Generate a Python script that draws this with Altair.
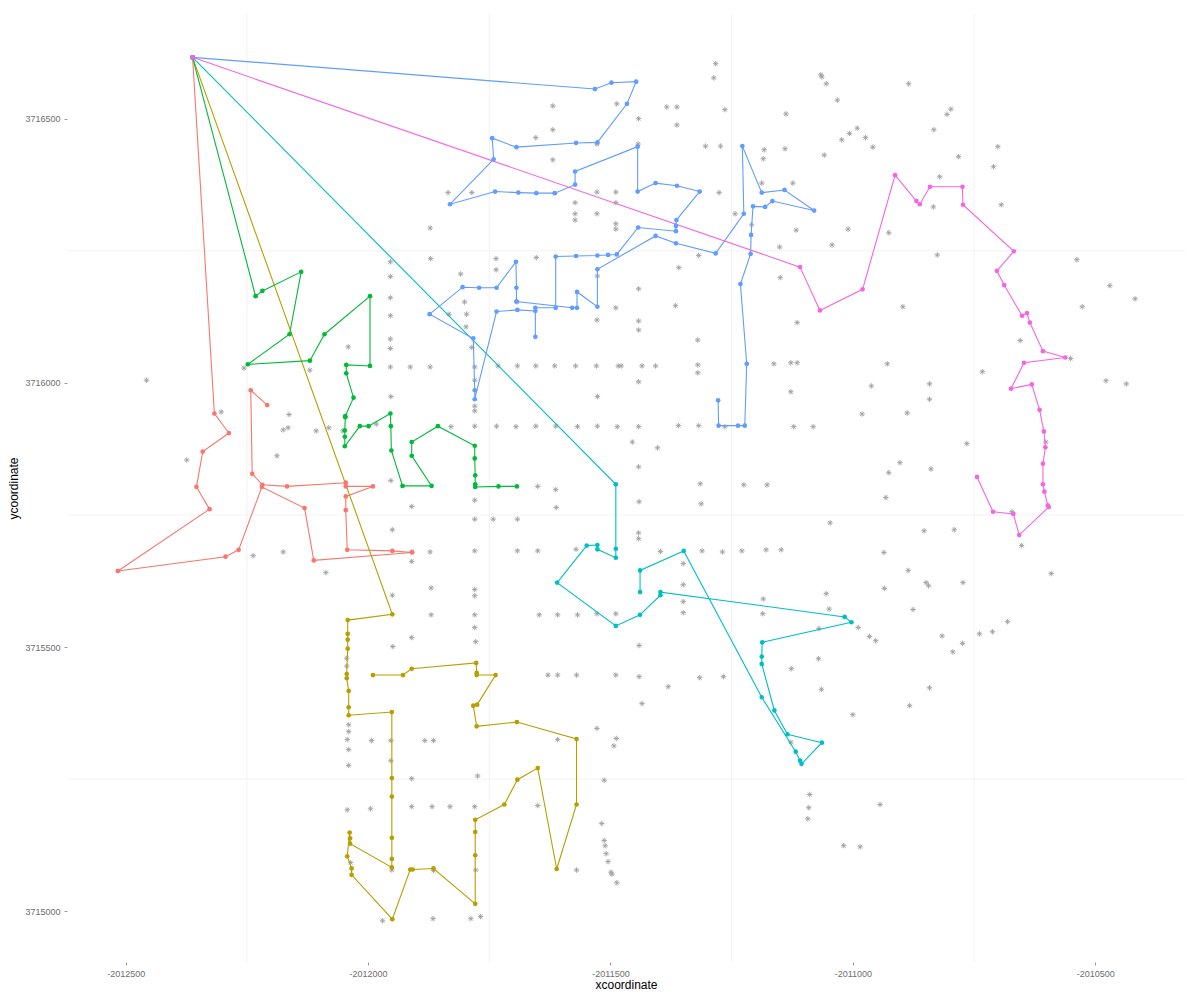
import altair as alt
import pandas as pd

depot_x = -2012362
depot_y = 3716616

red_x = [-2012317, -2012287, -2012341, -2012354, -2012327, -2012516, -2012294, -2012267, -2012219, -2012131,
         -2012112, -2011909, -2011950, -2012043, -2012046, -2012046, -2011990, -2012046, -2012046, -2012167,
         -2012218, -2012239, -2012242, -2012208]
red_y = [3715942, 3715905, 3715870, 3715803, 3715761, 3715644, 3715671, 3715684, 3715803, 3715763,
         3715664, 3715679, 3715682, 3715684, 3715759, 3715785, 3715804, 3715804, 3715811, 3715804,
         3715807, 3715828, 3715986, 3715958]

olive_x = [-2011950, -2012042, -2012042, -2012042, -2012042, -2012044, -2012044, -2012040, -2012040, -2012040,
           -2011951, -2011951, -2011951, -2011951, -2011951, -2011951, -2012037, -2012037, -2012038, -2012043,
           -2012034, -2012034, -2011950, -2011913, -2011908, -2011865, -2011779, -2011779, -2011779, -2011779,
           -2011719, -2011692, -2011650, -2011611, -2011570, -2011570, -2011693, -2011776, -2011783, -2011775,
           -2011737, -2011776, -2011776, -2011777, -2011910, -2011928, -2011990]
olive_y = [3715562, 3715551, 3715525, 3715514, 3715497, 3715449, 3715441, 3715417, 3715386, 3715371,
           3715377, 3715252, 3715217, 3715139, 3715099, 3715083, 3715128, 3715138, 3715149, 3715104,
           3715081, 3715069, 3714985, 3715079, 3715079, 3715081, 3715014, 3715106, 3715150, 3715173,
           3715202, 3715249, 3715271, 3715080, 3715202, 3715326, 3715358, 3715350, 3715389, 3715391,
           3715447, 3715447, 3715451, 3715470, 3715459, 3715447, 3715447]

green_x = [-2012232, -2012218, -2012138, -2012162, -2012248, -2012120, -2012090, -2011996, -2011996, -2012045,
           -2012045, -2012030, -2012047, -2012047, -2012048, -2012048, -2012048, -2012017, -2011999, -2011954,
           -2011953, -2011952, -2011929, -2011869, -2011910, -2011910, -2011856, -2011780, -2011780, -2011779,
           -2011779, -2011779, -2011731, -2011693]
green_y = [3716164, 3716174, 3716210, 3716092, 3716035, 3716042, 3716092, 3716164, 3716032, 3716034,
           3716018, 3715972, 3715937, 3715935, 3715910, 3715898, 3715880, 3715918, 3715918, 3715942,
           3715918, 3715872, 3715805, 3715805, 3715862, 3715888, 3715918, 3715881, 3715857, 3715825,
           3715808, 3715803, 3715804, 3715804]

cyan_x = [-2011489, -2011489, -2011489, -2011527, -2011527, -2011549, -2011610, -2011489, -2011439, -2011397,
          -2011397, -2011017, -2011003, -2011187, -2011188, -2011188, -2011162, -2011135, -2011064, -2011106,
          -2011109, -2011118, -2011188, -2011349, -2011439, -2011439]
cyan_y = [3715808, 3715686, 3715669, 3715685, 3715693, 3715692, 3715622, 3715540, 3715561, 3715598,
          3715604, 3715557, 3715547, 3715509, 3715482, 3715468, 3715380, 3715335, 3715319, 3715279,
          3715285, 3715302, 3715405, 3715682, 3715645, 3715604]

blue_x = [-2011532, -2011498, -2011447, -2011466, -2011527, -2011571, -2011694, -2011744, -2011741, -2011831,
          -2011738, -2011690, -2011653, -2011615, -2011573, -2011573, -2011444, -2011444, -2011407, -2011363,
          -2011316, -2011364, -2011365, -2011365, -2011443, -2011487, -2011505, -2011527, -2011571, -2011613,
          -2011613, -2011655, -2011655, -2011655, -2011692, -2011735, -2011780, -2011780, -2011783, -2011873,
          -2011805, -2011771, -2011735, -2011695, -2011694, -2011694, -2011579, -2011569, -2011569, -2011527,
          -2011527, -2011407, -2011365, -2011283, -2011225, -2011228, -2011188, -2011141, -2011080, -2011166,
          -2011181, -2011206, -2011210, -2011211, -2011232, -2011219, -2011223, -2011237, -2011277, -2011278]
blue_y = [3716556, 3716568, 3716570, 3716528, 3716455, 3716454, 3716446, 3716463, 3716423, 3716338,
          3716362, 3716360, 3716359, 3716359, 3716375, 3716400, 3716447, 3716362, 3716378, 3716373,
          3716362, 3716308, 3716297, 3716287, 3716294, 3716243, 3716242, 3716241, 3716240, 3716239,
          3716142, 3716142, 3716087, 3716136, 3716138, 3716135, 3715969, 3715986, 3716084, 3716130,
          3716181, 3716180, 3716180, 3716229, 3716180, 3716154, 3716142, 3716142, 3716172, 3716144,
          3716215, 3716278, 3716264, 3716245, 3716320, 3716448, 3716360, 3716365, 3716326, 3716344,
          3716333, 3716334, 3716280, 3716244, 3716187, 3716036, 3715919, 3715919, 3715919, 3715967]

magenta_x = [-2011109, -2011068, -2010980, -2010913, -2010869, -2010862, -2010841, -2010774, -2010773, -2010668,
             -2010703, -2010688, -2010651, -2010641, -2010635, -2010608, -2010562, -2010647, -2010674, -2010631,
             -2010615, -2010606, -2010603, -2010608, -2010608, -2010605, -2010598, -2010596, -2010657, -2010669,
             -2010711, -2010744]
magenta_y = [3716219, 3716137, 3716177, 3716393, 3716344, 3716338, 3716371, 3716371, 3716337, 3716249,
             3716212, 3716185, 3716127, 3716132, 3716114, 3716060, 3716048, 3716038, 3715989, 3715997,
             3715949, 3715908, 3715878, 3715847, 3715808, 3715794, 3715768, 3715765, 3715712, 3715752,
             3715756, 3715822]

star_x = [-2012041, -2011619, -2011487, -2011442, -2011619, -2011654, -2011528, -2011443, -2011619, -2011835,
          -2011786, -2011528, -2011489, -2011573, -2011489, -2011573, -2011528, -2011573, -2011489, -2011489,
          -2011872, -2011954, -2011871, -2011736, -2011736, -2011653, -2011954, -2011809, -2011527, -2011442,
          -2011954, -2011801, -2011693, -2011489, -2011954, -2011833, -2011797, -2011798, -2011528, -2011442,
          -2011442, -2011954, -2011954, -2011786, -2011283, -2011287, -2011066, -2011064, -2011055, -2010885,
          -2011384, -2011363, -2011264, -2011032, -2011138, -2011363, -2011007, -2010991, -2011023, -2010974,
          -2010959, -2011304, -2011273, -2011183, -2011140, -2011185, -2011059, -2011188, -2011124, -2011276,
          -2011243, -2011209, -2011117, -2011010, -2010926, -2011043, -2011151, -2011318, -2011359, -2011150,
          -2011366, -2010897, -2011115, -2011320, -2010798, -2010806, -2010833, -2010701, -2010782, -2010710,
          -2010821, -2010834, -2010694, -2010826, -2010538, -2010470, -2010418, -2010527, -2010655, -2010551,
          -2012457, -2012303, -2012374, -2012256, -2012120, -2012163, -2012175, -2012165, -2012107, -2012081,
          -2012052, -2012188, -2012237, -2012175, -2012087, -2011954, -2011913, -2011872, -2011780, -2011732,
          -2011692, -2011654, -2011615, -2011572, -2011529, -2011484, -2011478, -2011780, -2011442, -2011953,
          -2011527, -2011780, -2011780, -2011983, -2011829, -2011780, -2011735, -2011695, -2011654, -2011613,
          -2011568, -2011527, -2011486, -2011442, -2011455, -2011442, -2011953, -2011780, -2011650, -2011613,
          -2011441, -2011910, -2011612, -2011780, -2011742, -2011692, -2011950, -2011442, -2011442, -2011780,
          -2011692, -2011650, -2011571, -2011910, -2011872, -2011910, -2011870, -2011780, -2011780, -2011950,
          -2011870, -2011780, -2011647, -2011609, -2011568, -2011528, -2011489, -2011441, -2011780, -2011910,
          -2011778, -2011949, -2012044, -2011435, -2011407, -2011320, -2011320, -2011163, -2011128, -2011115,
          -2010929, -2011128, -2010962, -2010981, -2010888, -2011360, -2011318, -2011264, -2011122, -2011082,
          -2011403, -2011315, -2011225, -2011177, -2010903, -2010926, -2010932, -2011313, -2011047, -2011397,
          -2011311, -2011269, -2011229, -2011179, -2011148, -2010936, -2010886, -2011350, -2011350, -2010935,
          -2011350, -2011185, -2011055, -2011350, -2011049, -2011186, -2010876, -2010989, -2011070, -2010966,
          -2010953, -2011071, -2010733, -2010478, -2010436, -2010842, -2010842, -2010765, -2010839, -2010602,
          -2010672, -2010853, -2010791, -2010652, -2010591, -2010849, -2010844, -2010773, -2010681, -2010712,
          -2010739, -2010816, -2010774, -2010794, -2012044, -2012040, -2012040, -2012043, -2012040, -2012040,
          -2012043, -2012036, -2011629, -2011609, -2011570, -2011489, -2011441, -2011993, -2011953, -2011883,
          -2011865, -2011609, -2011528, -2011488, -2011493, -2011953, -2011910, -2011774, -2011513, -2011995,
          -2011910, -2011868, -2011831, -2011780, -2011650, -2011518, -2011513, -2011511, -2011509, -2011505,
          -2011499, -2011497, -2011487, -2011951, -2011865, -2011778, -2011570, -2011970, -2011866, -2011788,
          -2011768, -2011381, -2011316, -2011267, -2011127, -2011065, -2011435, -2010883, -2011000, -2011128,
          -2011089, -2011091, -2011093, -2010944, -2011019, -2010985, -2010842]
star_y = [3716068, 3716524, 3716528, 3716500, 3716479, 3716464, 3716452, 3716452, 3716422, 3716360,
          3716360, 3716361, 3716361, 3716341, 3716341, 3716320, 3716320, 3716308, 3716301, 3716291,
          3716293, 3716229, 3716235, 3716235, 3716214, 3716237, 3716201, 3716206, 3716202, 3716178,
          3716161, 3716153, 3716153, 3716142, 3716127, 3716130, 3716130, 3716106, 3716119, 3716117,
          3716100, 3716083, 3716065, 3716067, 3716604, 3716577, 3716583, 3716579, 3716566, 3716566,
          3716522, 3716522, 3716517, 3716535, 3716509, 3716488, 3716472, 3716482, 3716460, 3716464,
          3716446, 3716448, 3716448, 3716441, 3716443, 3716424, 3716431, 3716378, 3716378, 3716360,
          3716320, 3716299, 3716289, 3716291, 3716284, 3716261, 3716257, 3716241, 3716218, 3716199,
          3716146, 3716144, 3716114, 3716081, 3716518, 3716508, 3716479, 3716447, 3716428, 3716409,
          3716390, 3716333, 3716337, 3716242, 3716233, 3716184, 3716159, 3716144, 3716080, 3716046,
          3716005, 3715945, 3715854, 3716028, 3716024, 3715940, 3715911, 3715915, 3715909, 3715915,
          3715909, 3715862, 3715673, 3715680, 3715641, 3716030, 3716030, 3716030, 3716030, 3716032,
          3716032, 3716032, 3716032, 3716032, 3716032, 3716032, 3716032, 3716005, 3716002, 3715974,
          3715974, 3715956, 3715947, 3715922, 3715917, 3715918, 3715918, 3715917, 3715918, 3715918,
          3715917, 3715918, 3715917, 3715917, 3715888, 3715841, 3715815, 3715778, 3715804, 3715798,
          3715775, 3715766, 3715764, 3715742, 3715742, 3715742, 3715722, 3715716, 3715705, 3715682,
          3715682, 3715682, 3715685, 3715680, 3715680, 3715662, 3715612, 3715609, 3715597, 3715598,
          3715561, 3715561, 3715561, 3715561, 3715561, 3715563, 3715563, 3715503, 3715537, 3715518,
          3715510, 3715501, 3715479, 3716032, 3716032, 3716034, 3716019, 3716036, 3716038, 3716038,
          3716036, 3715983, 3715994, 3715941, 3715943, 3715919, 3715919, 3715917, 3715917, 3715917,
          3715877, 3715809, 3715807, 3715807, 3715849, 3715830, 3715783, 3715771, 3715735, 3715681,
          3715682, 3715680, 3715682, 3715684, 3715684, 3715679, 3715645, 3715658, 3715618, 3715611,
          3715586, 3715591, 3715601, 3715565, 3715572, 3715563, 3715571, 3715537, 3715535, 3715520,
          3715512, 3715478, 3716021, 3716004, 3715998, 3715998, 3715969, 3715885, 3715837, 3715888,
          3715756, 3715720, 3715722, 3715692, 3715639, 3715622, 3715616, 3715622, 3715548, 3715529,
          3715525, 3715521, 3715507, 3715491, 3715464, 3715353, 3715340, 3715325, 3715306, 3715276,
          3715192, 3715092, 3715447, 3715447, 3715447, 3715447, 3715444, 3715323, 3715323, 3715323,
          3715323, 3715325, 3715346, 3715327, 3715313, 3715285, 3715251, 3715256, 3715248, 3715194,
          3715198, 3715198, 3715198, 3715198, 3715200, 3715166, 3715134, 3715124, 3715109, 3715094,
          3715074, 3715070, 3715054, 3715078, 3715077, 3715078, 3715078, 3714982, 3714986, 3714986,
          3714990, 3715425, 3715442, 3715444, 3715459, 3715420, 3715393, 3715389, 3715372, 3715320,
          3715221, 3715196, 3715175, 3715202, 3715124, 3715122, 3715423]

route_names = ["1", "2", "3", "4", "5", "6"]
route_colors = ["#F8766D", "#B79F00", "#00BA38", "#00BFC4", "#619CFF", "#F564E3"]
route_xs = [red_x, olive_x, green_x, cyan_x, blue_x, magenta_x]
route_ys = [red_y, olive_y, green_y, cyan_y, blue_y, magenta_y]

x_ticks = [-2012500, -2012000, -2011500, -2011000, -2010500]
y_ticks = [3715000, 3715500, 3716000, 3716500]
grid_x = [-2012250, -2011750, -2011250, -2010750]
grid_y = [3715250, 3715750, 3716250]
x_domain = [-2012621, -2010315]
y_domain = [3714904, 3716698]

rows = []
for name, xs, ys in zip(route_names, route_xs, route_ys):
    seq_x = [depot_x] + xs
    seq_y = [depot_y] + ys
    for i, (a, b) in enumerate(zip(seq_x, seq_y)):
        rows.append({"route": name, "seq": i, "x": a, "y": b})
routes_df = pd.DataFrame(rows)
stars_df = pd.DataFrame({"x": star_x, "y": star_y})

xs = alt.Scale(domain=x_domain, nice=False, zero=False)
ys = alt.Scale(domain=y_domain, nice=False, zero=False)
col = alt.Scale(domain=route_names, range=route_colors)

x_axis = alt.Axis(values=x_ticks, grid=False, domain=False, tickSize=3, tickColor="#999999",
                  labelFontSize=9, labelColor="#6e6e6e", labelPadding=4, labelExpr="'' + datum.value",
                  title="xcoordinate", titleFontSize=12, titleFontWeight="normal", titleColor="#000000",
                  titlePadding=1, labelFont="Liberation Sans", titleFont="Liberation Sans")
y_axis = alt.Axis(values=y_ticks, grid=False, domain=False, tickSize=3, tickColor="#999999",
                  labelFontSize=9, labelColor="#6e6e6e", labelPadding=4, labelExpr="'' + datum.value",
                  title="ycoordinate", titleFontSize=12, titleFontWeight="normal", titleColor="#000000",
                  titlePadding=4, labelFont="Liberation Sans", titleFont="Liberation Sans")

vgrid = alt.Chart(pd.DataFrame({"gx": grid_x})).mark_rule(color="#f2f2f2", strokeWidth=1).encode(
    x=alt.X("gx:Q", scale=xs, axis=x_axis))
hgrid = alt.Chart(pd.DataFrame({"gy": grid_y})).mark_rule(color="#f2f2f2", strokeWidth=1).encode(
    y=alt.Y("gy:Q", scale=ys, axis=y_axis))

star_shape = "M0,-1L0,1M-1,0L1,0M-0.7,-0.7L0.7,0.7M-0.7,0.7L0.7,-0.7"
stars = alt.Chart(stars_df).mark_point(shape=star_shape, filled=False, color="#a0a0a0",
                                      strokeWidth=0.9, size=30, opacity=1).encode(
    x=alt.X("x:Q", scale=xs, axis=x_axis), y=alt.Y("y:Q", scale=ys, axis=y_axis))

lines = alt.Chart(routes_df).mark_line(strokeWidth=1.1).encode(
    x=alt.X("x:Q", scale=xs, axis=x_axis),
    y=alt.Y("y:Q", scale=ys, axis=y_axis),
    color=alt.Color("route:N", scale=col, legend=None),
    order="seq:Q")

points = alt.Chart(routes_df).mark_circle(size=22, opacity=1).encode(
    x=alt.X("x:Q", scale=xs, axis=x_axis),
    y=alt.Y("y:Q", scale=ys, axis=y_axis),
    color=alt.Color("route:N", scale=col, legend=None),
    order="route:N")

chart = alt.layer(vgrid, hgrid, stars, lines, points).properties(
    width=1118, height=948,
    autosize=alt.AutoSizeParams(type="none"),
    padding={"left": 67, "top": 14, "right": 15, "bottom": 38},
    background="white",
).configure_view(stroke=None)

chart.save("out.html", embed_options={"renderer": "svg", "actions": False})
